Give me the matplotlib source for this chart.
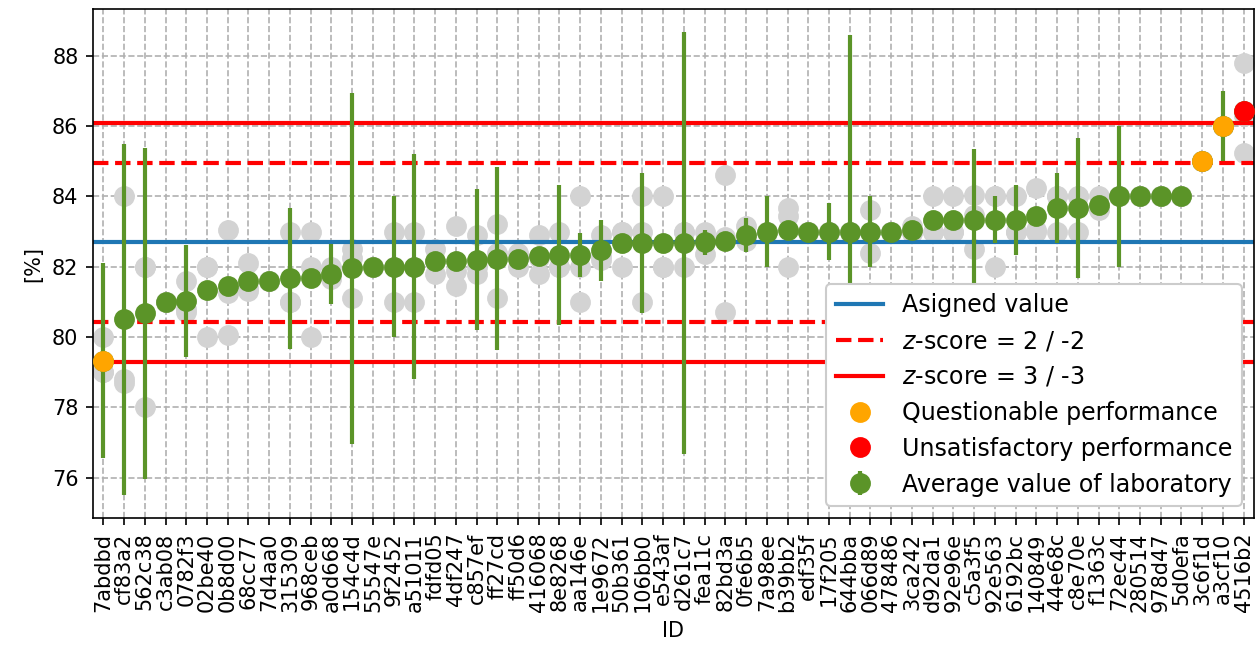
import matplotlib
matplotlib.use("Agg")
import matplotlib.pyplot as plt
from matplotlib.lines import Line2D
import numpy as np

# lab IDs, sorted by mean value
lab_ids = ["7abdbd", "cf83a2", "562c38", "c3ab08", "0782f3", "02be40", "0b8d00", "68cc77",
           "7d4aa0", "315309", "968ceb", "a0d668", "154c4d", "55547e", "9f2452", "a51011",
           "fdfd05", "4df247", "c857ef", "ff27cd", "ff50d6", "416068", "8e8268", "aa146e",
           "1e9672", "50b361", "106bb0", "e543af", "d261c7", "fea11c", "82bd3a", "0fe6b5",
           "7a98ee", "b39bb2", "edf35f", "17f205", "644bba", "066d89", "478486", "3ca242",
           "d92da1", "92e96e", "c5a3f5", "92e563", "6192bc", "140849", "44e68c", "c8e70e",
           "f1363c", "72ec44", "280514", "978d47", "5d0efa", "3c6f1d", "a3cf10", "4516b2"]

lab_mean = [79.33, 80.50, 80.67, 81.00, 81.03, 81.33, 81.45, 81.60,
            81.60, 81.67, 81.67, 81.80, 81.95, 82.00, 82.00, 82.00,
            82.15, 82.15, 82.20, 82.23, 82.23, 82.31, 82.33, 82.33,
            82.47, 82.67, 82.67, 82.67, 82.67, 82.69, 82.72, 82.91,
            83.00, 83.03, 83.00, 83.00, 83.00, 83.00, 83.00, 83.04,
            83.33, 83.33, 83.34, 83.33, 83.33, 83.43, 83.67, 83.67,
            83.76, 84.00, 84.00, 84.00, 84.00, 85.00, 86.00, 86.44]

# reported uncertainty (0 = not reported)
lab_unc = [2.77, 5.0, 4.7, 0, 1.6, 0, 0, 0,
           0, 2.0, 0, 0.85, 5.0, 0, 2.0, 3.2,
           0, 0, 2.0, 2.6, 0, 0, 2.0, 0.62,
           0.87, 0, 2.0, 0, 6.0, 0.35, 0, 0.48,
           1.0, 0, 0, 0.8, 5.6, 1.0, 0, 0,
           0, 0, 2.0, 0.67, 1.0, 0, 1.0, 2.0,
           0, 2.0, 0, 0, 0, 0, 1.0, 0]

# individual replicate results
replicates = [[80.0, 79.0, 79.0], [84.0, 78.8, 78.7], [82.0, 82.0, 78.0], [81.0, 81.0, 81.0],
              [81.6, 80.7, 80.8], [82.0, 82.0, 80.0], [83.05, 81.25, 80.05], [82.1, 81.4, 81.3],
              [81.6, 81.6, 81.6], [83.0, 81.0, 81.0], [83.0, 82.0, 80.0], [82.0, 81.75, 81.65],
              [82.5, 82.25, 81.1], [82.0, 82.0, 82.0], [83.0, 82.0, 81.0], [83.0, 82.0, 81.0],
              [82.5, 82.15, 81.8], [83.15, 81.87, 81.44], [82.9, 82.0, 81.8], [83.2, 82.4, 81.1],
              [82.4, 82.3, 82.0], [82.9, 82.25, 81.8], [83.0, 82.0, 82.0], [84.0, 82.0, 81.0],
              [82.9, 82.3, 82.2], [83.0, 83.0, 82.0], [84.0, 83.0, 81.0], [84.0, 82.0, 82.0],
              [83.0, 83.0, 82.0], [83.0, 82.7, 82.35], [84.6, 82.85, 80.7], [83.15, 82.85, 82.73],
              [83.0, 83.0, 83.0], [83.67, 83.43, 82.0], [83.0, 83.0, 83.0], [83.0, 83.0, 83.0],
              [83.0, 83.0, 83.0], [83.6, 83.0, 82.4], [83.0, 83.0, 83.0], [83.15, 83.0, 82.97],
              [84.0, 83.0, 83.0], [84.0, 83.0, 83.0], [84.05, 83.47, 82.5], [84.0, 84.0, 82.0],
              [84.0, 83.0, 83.0], [84.24, 83.05, 83.0], [84.0, 84.0, 83.0], [84.0, 84.0, 83.0],
              [84.0, 83.7, 83.6], [84.0, 84.0, 84.0], [84.0, 84.0, 84.0], [84.0, 84.0, 84.0],
              [84.0, 84.0, 84.0], [85.0, 85.0, 85.0], [86.0, 86.0, 86.0], [87.8, 86.3, 85.23]]

assigned_value = 82.69
sigma_pt = 1.13

green = '#5b9428'
msize = 9

fig = plt.figure(figsize=(1258 / 150, 662 / 150))
ax = fig.add_subplot()
fig.subplots_adjust(left=93 / 1258, right=1254 / 1258, bottom=1 - 518 / 662, top=1 - 9 / 662)

x = np.arange(len(lab_ids))
mean = np.array(lab_mean)
z = (mean - assigned_value) / sigma_pt

# replicates in the background
for i, reps in enumerate(replicates):
    ax.plot([x[i]] * len(reps), reps, 'o', color='lightgray', markersize=msize, zorder=1)

h_av = ax.axhline(assigned_value, color='tab:blue', lw=2, zorder=2)
h_z2 = ax.axhline(assigned_value + 2 * sigma_pt, color='red', lw=2, ls='--', zorder=2)
ax.axhline(assigned_value - 2 * sigma_pt, color='red', lw=2, ls='--', zorder=2)
h_z3 = ax.axhline(assigned_value + 3 * sigma_pt, color='red', lw=2, zorder=2)
ax.axhline(assigned_value - 3 * sigma_pt, color='red', lw=2, zorder=2)

h_lab = ax.errorbar(x, mean, yerr=lab_unc, fmt='o', color=green, markersize=msize,
                    elinewidth=2, capsize=0, zorder=3)

q = (np.abs(z) >= 2) & (np.abs(z) < 3)
u = np.abs(z) >= 3
ax.plot(x[q], mean[q], 'o', color='orange', markersize=msize, zorder=4)
ax.plot(x[u], mean[u], 'o', color='red', markersize=msize, zorder=4)

h_q = Line2D([], [], marker='o', ls='none', color='orange', markersize=msize)
h_u = Line2D([], [], marker='o', ls='none', color='red', markersize=msize)

ax.legend([h_av, h_z2, h_z3, h_q, h_u, h_lab],
          ['Asigned value', '$z$-score = 2 / -2', '$z$-score = 3 / -3',
           'Questionable performance', 'Unsatisfactory performance',
           'Average value of laboratory'], loc='lower right', fontsize=11.4,
          framealpha=1)

ax.set_xticks(x)
ax.set_xticklabels(lab_ids, rotation=90)
ax.set_xlim(-0.5, len(lab_ids) - 0.5)
ax.set_ylim(74.85, 89.33)
ax.grid(ls='--', color='#b0b0b0', lw=0.8)
ax.set_axisbelow(True)
ax.set_xlabel('ID')
ax.set_ylabel('[%]')

fig.savefig('out.png', dpi=150)
